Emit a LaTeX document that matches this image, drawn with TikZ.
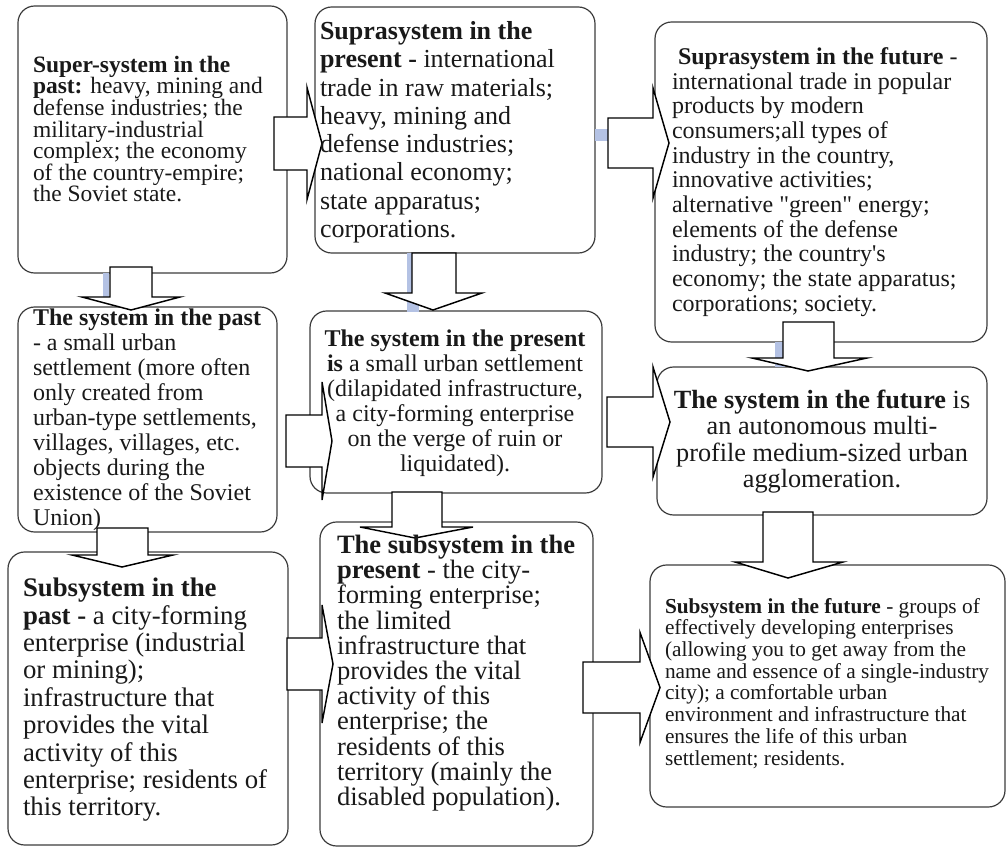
\documentclass[tikz,border=0pt]{standalone}
\usepackage{fontspec}
\setmainfont{Liberation Serif}[Ligatures=TeXOff]
\definecolor{shadeblue}{RGB}{180,194,228}
\definecolor{boxline}{RGB}{60,60,60}
\newcommand\fs[2]{\fontsize{#1}{#2}\selectfont}
% right block arrow: x0, head base x, tip x, centre y, shaft half height, head half height
\newcommand\rarr[6]{\draw[arrowst] (#1,#4-#5) -- (#2,#4-#5) -- (#2,#4-#6) -- (#3,#4) -- (#2,#4+#6) -- (#2,#4+#5) -- (#1,#4+#5) -- cycle;}
% down block arrow: shaft left x, shaft right x, y0, head base y, head left x, head right x, tip x, tip y
\newcommand\darr[8]{\draw[arrowst] (#1,#3) -- (#2,#3) -- (#2,#4) -- (#6,#4) -- (#7,#8) -- (#5,#4) -- (#1,#4) -- cycle;}
\tikzset{
  boxst/.style={draw=boxline, line width=0.9pt, rounded corners=12.5pt, fill=white,
    anchor=north west, inner sep=0pt, outer sep=0pt},
  arrowst/.style={draw=black, line width=1.1pt, fill=white, line join=miter},
  shadowst/.style={fill=shadeblue, draw=none},
  txt/.style={inner sep=0pt, outer sep=0pt, align=left, anchor=north west, text=black!90},
  ctxt/.style={inner sep=0pt, outer sep=0pt, align=center, anchor=north, text=black!90},
}
\begin{document}
\begin{tikzpicture}[x=0.75pt, y=-0.75pt]
\useasboundingbox (0,0) rectangle (1006,848);
% boxes
\node[boxst, minimum width=201.75pt, minimum height=200.25pt] (A) at (18,6) {};
\node[boxst, minimum width=210pt, minimum height=184.5pt] (B) at (315,7) {};
\node[boxst, minimum width=249pt, minimum height=240pt] (C) at (655,22) {};
\node[boxst, minimum width=194.25pt, minimum height=168.75pt] (D) at (18,307) {};
\node[boxst, minimum width=219pt, minimum height=136.5pt] (E) at (310,311) {};
\node[boxst, minimum width=247.5pt, minimum height=111pt] (F) at (657,367) {};
\node[boxst, minimum width=210pt, minimum height=219.75pt] (G) at (8,552) {};
\node[boxst, minimum width=204.75pt, minimum height=243pt] (H) at (320,522) {};
\node[boxst, minimum width=266.25pt, minimum height=181.5pt] (I) at (650,565) {};
% blue shadow stubs
\fill[shadowst] (103,273) rectangle (109,297);
\fill[shadowst] (407,253) rectangle (419,312);
\fill[shadowst] (595,129) rectangle (608,141);
\fill[shadowst] (775,342) rectangle (785,367);
% block arrows
\rarr{274}{307}{322}{143.5}{26.5}{56}
\rarr{608}{653}{669}{143}{25}{55}
\rarr{286}{322}{332}{441}{26}{59}
\rarr{607}{653}{670}{422}{25}{55}
\rarr{287}{322}{333}{664}{26}{59}
\rarr{583}{640}{660}{687.5}{25.5}{55}
\darr{110}{152}{267}{297}{82}{180}{131}{310}
\darr{412}{456}{253}{293}{385}{482}{433}{310}
\darr{783}{834}{322}{358}{752}{867}{808}{371}
\darr{97}{148}{528}{555}{72}{173}{122}{567}
\darr{392}{442}{492}{527}{360}{473}{415}{538}
\darr{763}{813}{512}{562}{735}{843}{788}{578}
% texts
\node[txt, font=\fs{17.6pt}{16.2pt}] (tA) at (33,56) {\textbf{Super-system in the}\\
\textbf{past:} heavy, mining and\\
defense industries; the\\
military-industrial\\
complex; the economy\\
of the country-empire;\\
the Soviet state.};
\node[txt, font=\fs{19.5pt}{21.2pt}] (tB) at (320,21.6) {\textbf{Suprasystem in the}\\
\textbf{present -} international\\
trade in raw materials;\\
heavy, mining and\\
defense industries;\\
national economy;\\
state apparatus;\\
corporations.};
\node[txt, font=\fs{18pt}{18.5pt}] (tC) at (672,47.5) {\hspace*{4.5pt}\textbf{Suprasystem in the future} -\\
international trade in popular\\
products by modern\\
consumers;all types of\\
industry in the country,\\
innovative activities;\\
alternative "green" energy;\\
elements of the defense\\
industry; the country's\\
economy; the state apparatus;\\
corporations; society.};
\node[txt, font=\fs{18pt}{18.75pt}] (tD) at (33,308.5) {\textbf{The system in the past}\\
- a small urban\\
settlement (more often\\
only created from\\
urban-type settlements,\\
villages, villages, etc.\\
objects during the\\
existence of the Soviet\\
Union)};
\node[ctxt, font=\fs{18pt}{18.75pt}] (tE) at (455,330) {\textbf{The system in the present}\\
\textbf{is} a small urban settlement\\
(dilapidated infrastructure,\\
a city-forming enterprise\\
on the verge of ruin or\\
liquidated).};
\node[ctxt, font=\fs{19.7pt}{19.7pt}] (tF) at (822,390) {\textbf{The system in the future} is\\
an autonomous multi-\\
profile medium-sized urban\\
agglomeration.};
\node[txt, font=\fs{20.1pt}{20.55pt}] (tG) at (23,578) {\textbf{Subsystem in the}\\
\textbf{past -} a city-forming\\
enterprise (industrial\\
or mining);\\
infrastructure that\\
provides the vital\\
activity of this\\
enterprise; residents of\\
this territory.};
\node[txt, font=\fs{19.9pt}{18.9pt}] (tH) at (337,535) {\textbf{The subsystem in the}\\
\textbf{present} - the city-\\
forming enterprise;\\
the limited\\
infrastructure that\\
provides the vital\\
activity of this\\
enterprise; the\\
residents of this\\
territory (mainly the\\
disabled population).};
\node[txt, font=\fs{16pt}{16.3pt}] (tI) at (665,598) {\textbf{Subsystem in the future} - groups of\\
effectively developing enterprises\\
(allowing you to get away from the\\
name and essence of a single-industry\\
city); a comfortable urban\\
environment and infrastructure that\\
ensures the life of this urban\\
settlement; residents.};
\end{tikzpicture}
\end{document}
